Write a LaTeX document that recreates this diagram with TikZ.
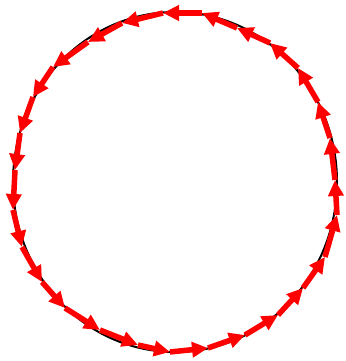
\documentclass[tikz,border=0pt]{standalone}
\usetikzlibrary{arrows.meta}
\tikzset{
  seg/.style={draw=red, line width=5.5pt, -{Triangle[length=16pt,width=15pt]}},
  ring/.style={draw=black, line width=2pt}
}
\begin{document}
\begin{tikzpicture}[x=1pt,y=-1pt]
\useasboundingbox (0,0) rectangle (345,361);
% the circle
\draw[ring] (175,182) ellipse [x radius=162, y radius=170];
% points of the polygon, going round
\foreach \n/\x/\y in {1/170/352, 2/208/348, 3/245/335, 4/278/315, 5/303/288,
  6/325/257, 7/337/215, 8/335/180, 9/330/138, 10/318/102, 11/298/68,
  12/270/43, 13/237/28, 14/202/13, 15/163/13, 16/122/23, 17/88/42,
  18/53/67, 19/33/97, 20/20/133, 21/15/170, 22/13/210, 23/22/247,
  24/42/282, 25/65/308, 26/100/330, 27/138/345}
  \coordinate (p\n) at (\x,\y);
% the arrows
\foreach \i [evaluate=\i as \j using {int(mod(\i,27)+1)}] in {1,...,27}
  \draw[seg] (p\i) -- (p\j);
\end{tikzpicture}
\end{document}
